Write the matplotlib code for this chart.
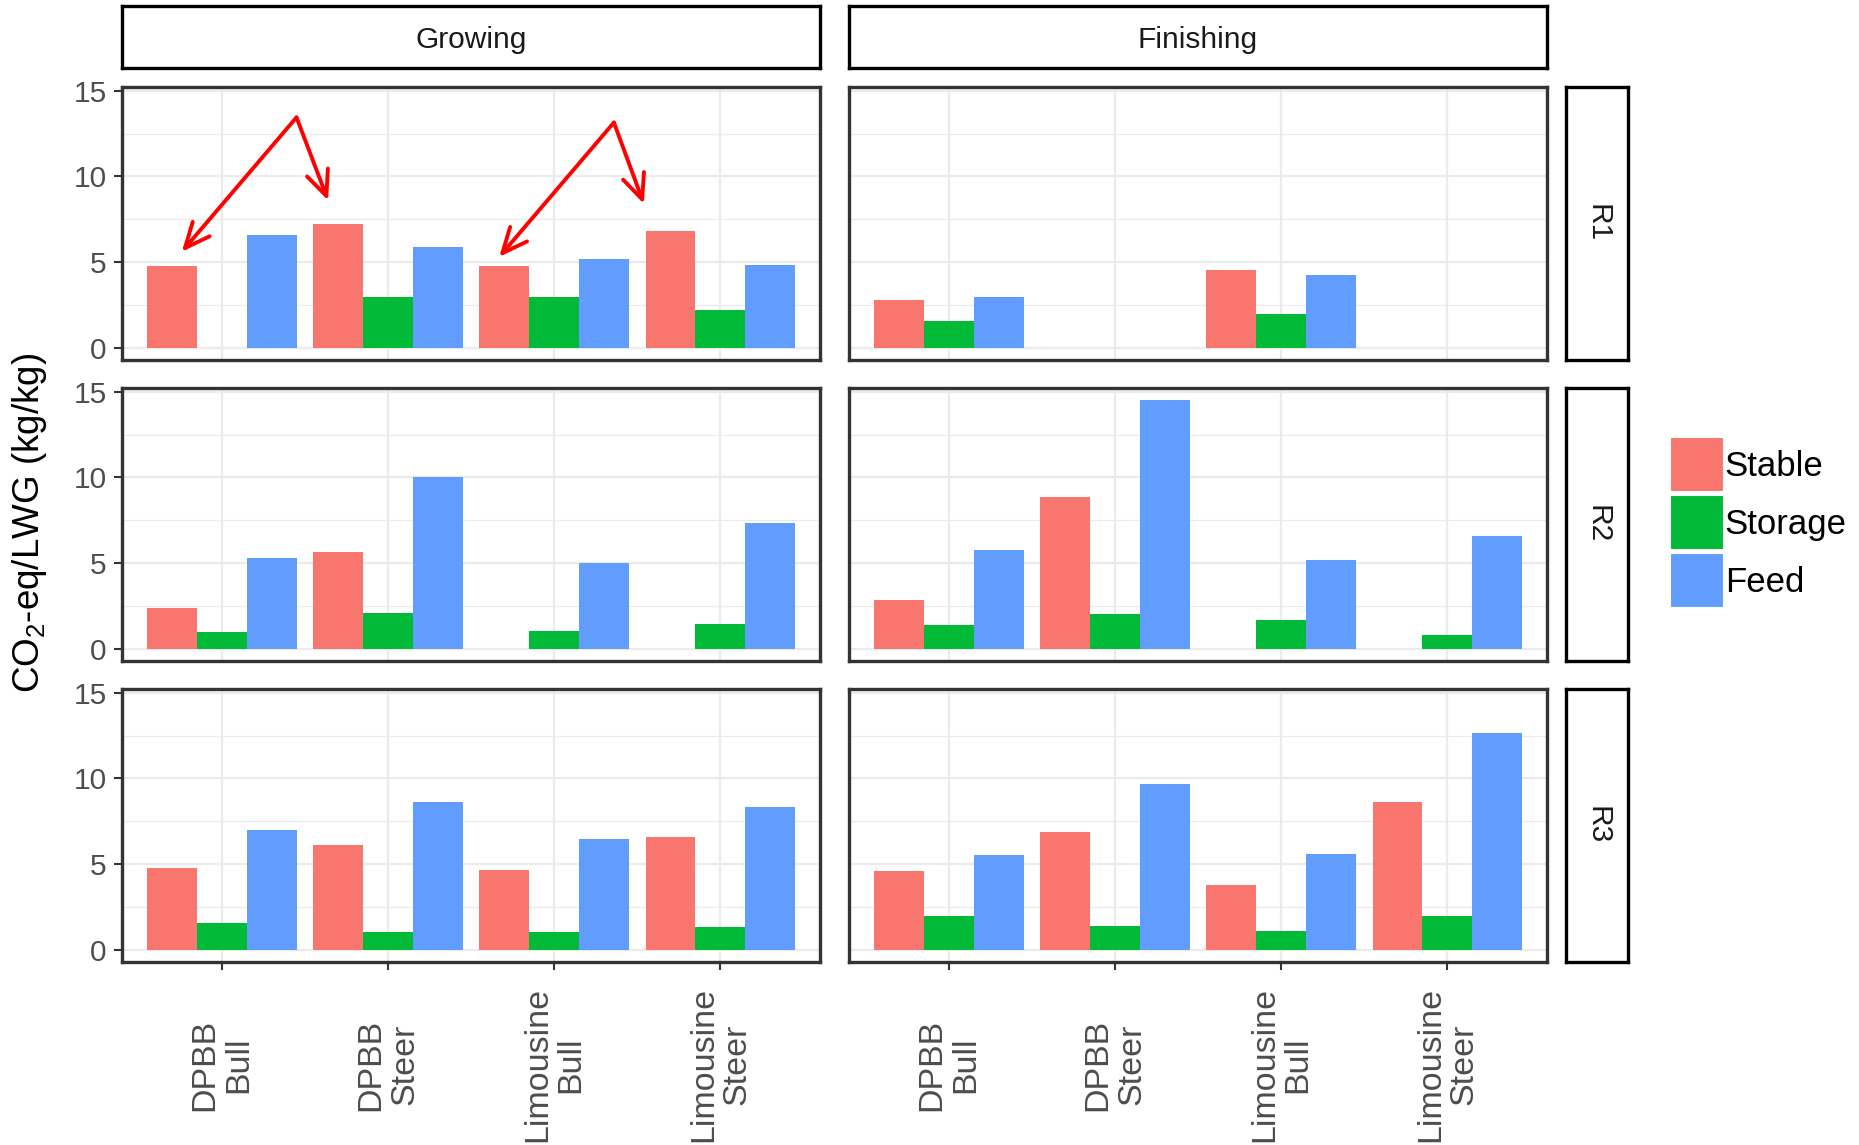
#!/usr/bin/env python3

# Faceted bar chart: emissions per kg live weight gain by source,
# split by stage (columns) and ration (rows)
import numpy as np
import matplotlib
matplotlib.use("Agg")
import matplotlib.pyplot as plt
from matplotlib.patches import Patch

plt.rcParams['font.family'] = ['Liberation Sans', 'DejaVu Sans']
plt.rcParams['mathtext.fontset'] = 'custom'
plt.rcParams['mathtext.rm'] = 'Liberation Sans'

nan = np.nan

# data
breeds = ['DPBB\nBull', 'DPBB\nSteer', 'Limousine\nBull', 'Limousine\nSteer']
stages = ['Growing', 'Finishing']
rations = ['R1', 'R2', 'R3']
sources = ['Stable', 'Storage', 'Feed']

# one row per ration (R1, R2, R3), one value per breed
stable_growing = [[4.75, 7.2, 4.75, 6.8],
                  [2.4, 5.65, nan, nan],
                  [4.75, 6.1, 4.65, 6.55]]
storage_growing = [[nan, 2.95, 2.95, 2.2],
                   [0.95, 2.1, 1.05, 1.45],
                   [1.55, 1.0, 1.0, 1.3]]
feed_growing = [[6.55, 5.85, 5.2, 4.85],
                [5.3, 10.0, 5.0, 7.35],
                [7.0, 8.6, 6.45, 8.35]]

stable_finishing = [[2.8, nan, 4.55, nan],
                    [2.85, 8.85, nan, nan],
                    [4.6, 6.85, 3.75, 8.6]]
storage_finishing = [[1.55, nan, 1.95, nan],
                     [1.35, 2.0, 1.65, 0.8],
                     [1.95, 1.4, 1.1, 1.95]]
feed_finishing = [[2.95, nan, 4.25, nan],
                  [5.75, 14.5, 5.2, 6.6],
                  [5.5, 9.65, 5.6, 12.65]]

# red arrows drawn on the Growing / R1 panel: (start x, start y, end x, end y)
arrows_x0 = [0.45, 0.45, 2.36, 2.36]
arrows_y0 = [13.45, 13.45, 13.15, 13.15]
arrows_x1 = [-0.24, 0.64, 1.67, 2.54]
arrows_y1 = [5.6, 8.6, 5.3, 8.4]

colors = ['#F8766D', '#00BA38', '#619CFF']
values = {'Growing': [stable_growing, storage_growing, feed_growing],
          'Finishing': [stable_finishing, storage_finishing, feed_finishing]}

W, H = 1859, 1145
fig = plt.figure(figsize=(W / 100, H / 100), dpi=100)

col_left = [122, 849]
panel_w = 698
row_top = [87, 388, 689]
panel_h = 273
border = '#333333'


def fx(px):
    return px / W


def fy(px):
    return 1 - px / H


x = np.arange(len(breeds))
ymax = 14.5
axes = {}
for c, stage in enumerate(stages):
    for r, ration in enumerate(rations):
        ax = fig.add_axes([fx(col_left[c]), fy(row_top[r] + panel_h),
                           panel_w / W, panel_h / H])
        axes[(c, r)] = ax
        for k, src in enumerate(sources):
            ax.bar(x + (k - 1) * 0.3, values[stage][k][r], 0.3,
                   color=colors[k], linewidth=0)
        ax.set_xlim(-0.6, 3.6)
        ax.set_ylim(-0.05 * ymax, 15.225)
        ax.set_yticks([0, 5, 10, 15])
        ax.set_yticks([2.5, 7.5, 12.5], minor=True)
        ax.set_xticks(x)
        ax.set_axisbelow(True)
        ax.grid(which='major', color='#EBEBEB', linewidth=1.6)
        ax.grid(which='minor', axis='y', color='#EBEBEB', linewidth=0.9)
        for s in ax.spines.values():
            s.set_color(border)
            s.set_linewidth(2.4)
        ax.tick_params(which='minor', length=0)
        ax.tick_params(axis='y', length=6, width=1.5, color=border,
                       labelsize=21.5, labelcolor='#4D4D4D', pad=5,
                       labelleft=(c == 0), left=(c == 0))
        if r == 2:
            ax.tick_params(axis='x', length=6, width=1.5, color=border,
                           pad=68)
            ax.set_xticklabels(breeds, rotation=90, fontsize=24.5,
                               color='#4D4D4D', va='center', ha='center',
                               linespacing=1.1)
        else:
            ax.tick_params(axis='x', length=0, labelbottom=False)

# annotation arrows
ax = axes[(0, 0)]
for i in range(len(arrows_x0)):
    ax.annotate('', xy=(arrows_x1[i], arrows_y1[i]),
                xytext=(arrows_x0[i], arrows_y0[i]),
                arrowprops=dict(arrowstyle='->,head_length=0.9,head_width=0.4',
                                color='#FF0000', lw=2.8, shrinkA=0, shrinkB=0,
                                mutation_scale=20))

# column strips
for c, stage in enumerate(stages):
    sax = fig.add_axes([fx(col_left[c]), fy(68), panel_w / W, 62 / H])
    sax.set_xticks([])
    sax.set_yticks([])
    for s in sax.spines.values():
        s.set_color('black')
        s.set_linewidth(2.4)
    sax.text(0.5, 0.45, stage, ha='center', va='center', fontsize=21.5,
             color='#1A1A1A', transform=sax.transAxes)

# row strips
for r, ration in enumerate(rations):
    sax = fig.add_axes([fx(1566), fy(row_top[r] + panel_h), 62 / W, panel_h / H])
    sax.set_xticks([])
    sax.set_yticks([])
    for s in sax.spines.values():
        s.set_color('black')
        s.set_linewidth(2.4)
    sax.text(0.5, 0.5, ration, ha='center', va='center', fontsize=21.5,
             rotation=270, color='#1A1A1A', transform=sax.transAxes)

# y axis title
fig.text(fx(30), fy(523), r'CO$_{\rm 2}$-eq/LWG (kg/kg)', rotation=90,
         ha='center', va='center', fontsize=26.5, color='black')

# legend
handles = [Patch(facecolor=colors[k], edgecolor='white', linewidth=1.5)
           for k in range(3)]
fig.legend(handles, sources, loc='upper left',
           bbox_to_anchor=(fx(1670), fy(437)), frameon=False, fontsize=25,
           handlelength=1.56, handleheight=2.07, handletextpad=0.02,
           labelspacing=0.08, borderpad=0, borderaxespad=0)

fig.savefig('out.png', dpi=100)
